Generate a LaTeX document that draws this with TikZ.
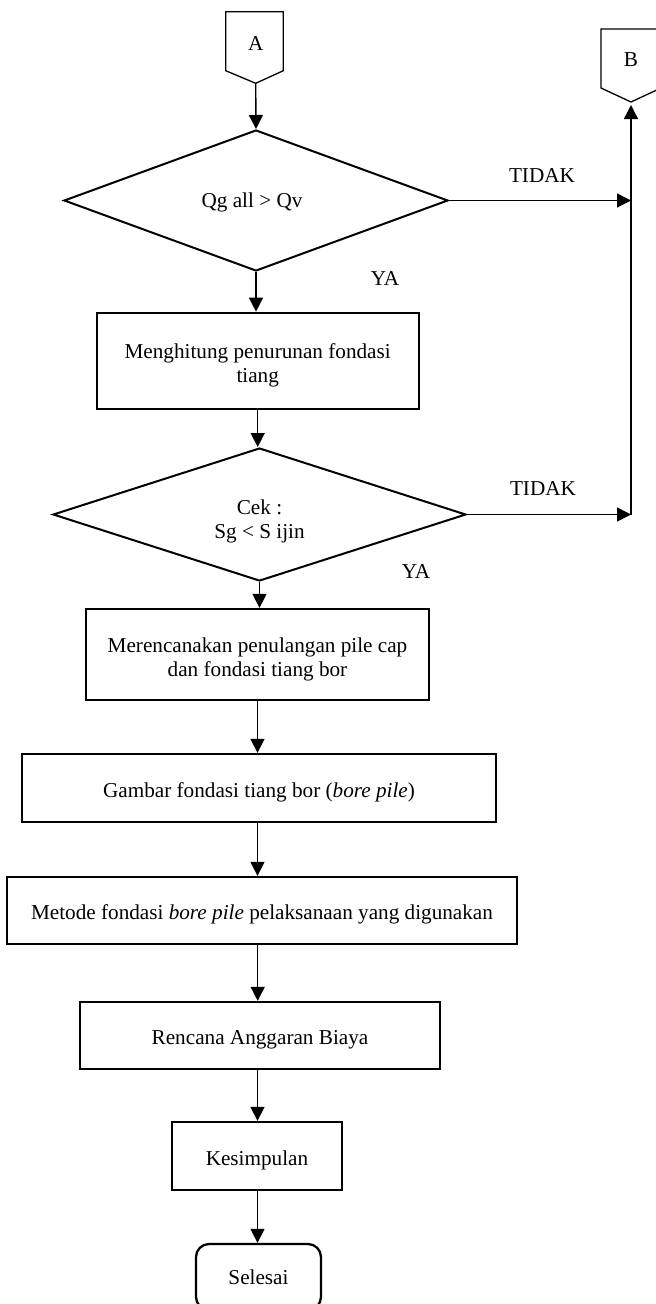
\documentclass[tikz,border=0pt]{standalone}
\usepackage{fontspec}
\setmainfont{Liberation Serif}
\usetikzlibrary{shapes.geometric,arrows.meta}
\tikzset{
  procbox/.style={draw, rectangle, line width=2.3pt, inner sep=0pt},
  decbox/.style={draw, diamond, line width=2pt, inner sep=0pt},
  endbox/.style={draw, rectangle, rounded corners=13pt, line width=2.3pt, inner sep=0pt},
  conn/.style={line width=1.4pt, -{Triangle[length=14pt,width=14pt]}},
  offpage/.style={line width=1.3pt},
  lbl/.style={inner sep=0pt},
  txt/.style={inner sep=0pt, align=center}
}
\begin{document}
\begin{tikzpicture}[x=1pt,y=-1pt,font=\fontsize{21.2}{24}\selectfont]
\useasboundingbox (0,0) rectangle (656,1304);

% off-page connectors
\draw[offpage] (225.7,11.7) -- (283.3,11.7) -- (283.3,70.7) -- (255.7,83.3) -- (225.7,70.7) -- cycle;
\node[lbl] (A) at (255.7,43) {A};
\coordinate (Atip) at (255.7,83.3);
\draw[offpage] (601,29) -- (661,29) -- (661,88) -- (631,102) -- (601,88) -- cycle;
\node[lbl] (B) at (631,60) {B};
\coordinate (Btip) at (631,105);

% decisions and processes (shapes)
\node[decbox, minimum width=384pt, minimum height=141pt] (d1) at (256,200.5) {};
\node[procbox, minimum width=322pt, minimum height=96pt] (b1) at (257.7,360.8) {};
\node[decbox, minimum width=413pt, minimum height=133pt] (d2) at (259.5,514.5) {};
\node[procbox, minimum width=343pt, minimum height=91pt] (b2) at (257.5,654.5) {};
\node[procbox, minimum width=474pt, minimum height=68pt] (b3) at (259,788) {};
\node[procbox, minimum width=510pt, minimum height=67pt] (b4) at (262,910.5) {};
\node[procbox, minimum width=360pt, minimum height=67pt] (b5) at (260,1035.5) {};
\node[procbox, minimum width=170pt, minimum height=68pt] (b6) at (257,1156) {};
\node[endbox, minimum width=125pt, minimum height=66pt] (sel) at (258.5,1277) {};

% texts
\node[txt] (d1t) at ([xshift=-4pt,yshift=-2pt]d1.center) {Qg all > Qv};
\node[txt] (b1t) at ([yshift=-4.5pt]b1.center) {Menghitung penurunan fondasi\\tiang};
\node[txt] (d2t) at ([yshift=-7pt]d2.center) {Cek :\\Sg < S ijin};
\node[txt] (b2t) at ([yshift=-4.5pt]b2.center) {Merencanakan penulangan pile cap\\dan fondasi tiang bor};
\node[txt] (b3t) at ([yshift=-4pt]b3.center) {Gambar fondasi tiang bor (\textit{bore pile})};
\node[txt] (b4t) at ([yshift=-4pt]b4.center) {Metode fondasi \textit{bore pile} pelaksanaan yang digunakan};
\node[txt] (b5t) at ([yshift=-4pt]b5.center) {Rencana Anggaran Biaya};
\node[txt] (b6t) at ([yshift=-4pt]b6.center) {Kesimpulan};
\node[txt] (selt) at (sel.center) {Selesai};

% junctions on the return line
\coordinate (j1) at (631,200.5);
\coordinate (j2) at (631,514.5);

% connectors
\draw[conn] (Atip) -- (d1.north);
\draw[conn] (d1.south) -- (d1.south |- b1.north);
\draw[conn] (b1.south) -- (b1.south |- d2.north);
\draw[conn] (d2.south) -- (d2.south |- b2.north);
\draw[conn] (b2.south) -- (b2.south |- b3.north);
\draw[conn] (b3.south -| b2.south) -- (b2.south |- b4.north);
\draw[conn] (b4.south -| b1.south) -- (b1.south |- b5.north);
\draw[conn] (b5.south -| b2.south) -- (b2.south |- b6.north);
\draw[conn] (b6.south -| b2.south) -- (b2.south |- sel.north);
\draw[conn] (d1.east) -- (j1);
\draw[conn] (d2.east) -- (j2);
\draw[conn] (j2) -- (Btip);

% labels
\node[lbl] (t1) at (542,176) {TIDAK};
\node[lbl] (t2) at (543,489) {TIDAK};
\node[lbl] (y1) at (385,278) {YA};
\node[lbl] (y2) at (416,571) {YA};
\end{tikzpicture}
\end{document}
